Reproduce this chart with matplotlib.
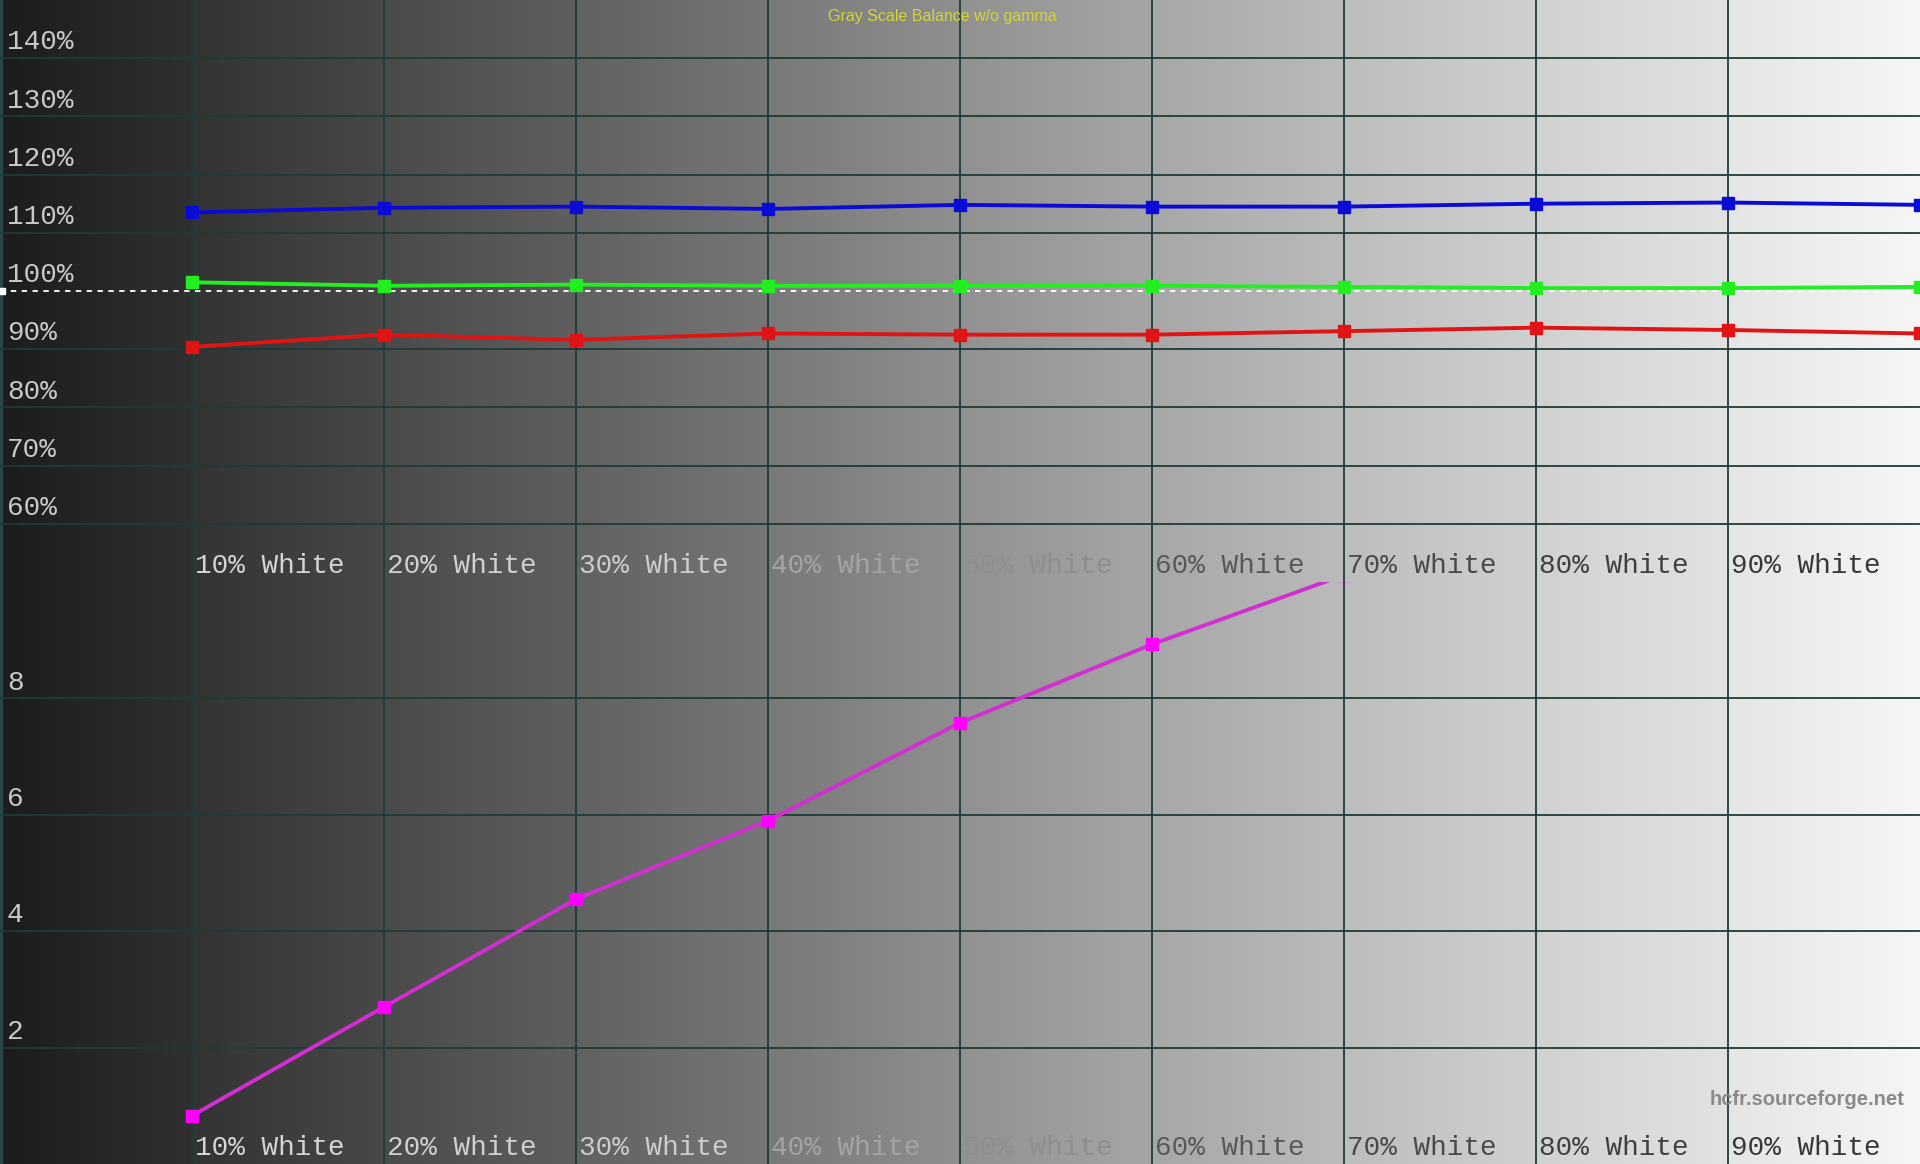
import numpy as np
import matplotlib
matplotlib.use("Agg")
import matplotlib.pyplot as plt

# data
levels = [10, 20, 30, 40, 50, 60, 70, 80, 90, 100]
red = [90.4, 92.5, 91.6, 92.7, 92.5, 92.5, 93.1, 93.7, 93.3, 92.7]
green = [101.5, 100.9, 101.1, 100.9, 100.9, 100.9, 100.7, 100.5, 100.5, 100.7]
blue = [113.5, 114.3, 114.5, 114.1, 114.8, 114.5, 114.5, 115.0, 115.2, 114.8]
delta_levels = [10, 20, 30, 40, 50, 60, 70]
delta = [0.83, 2.70, 4.55, 5.90, 7.58, 8.93, 10.12]

top_ticks = [60, 70, 80, 90, 100, 110, 120, 130, 140]
bottom_ticks = [2, 4, 6, 8]
xlabels = ["%d%% White" % v for v in levels[:-1]]
xlabel_colors = ["#d4d4d4", "#d0d0d0", "#cccccc", "#a4a4a4", "#8e8e8e",
                 "#585858", "#4a4a4a", "#404040", "#383838"]

# background: gray ramp, one slightly stepped segment per 10% column
bg_start = [0x1c, 0x33, 0x4a, 0x61, 0x79, 0x91, 0xa7, 0xbd, 0xd1, 0xe5]
bg_end = [0x30, 0x48, 0x5f, 0x77, 0x8f, 0xa6, 0xbb, 0xd0, 0xe2, 0xf6]

grid_col = "#1e3a3a"
mono = ["Liberation Mono", "DejaVu Sans Mono"]


def make_bg():
    cols = []
    for a, b in zip(bg_start, bg_end):
        cols.append(np.linspace(a, b, 100) / 255.0)
    g = np.concatenate(cols)
    img = np.repeat(g[None, :, None], 3, axis=2)
    img = np.repeat(img, 2, axis=0)
    return img


fig = plt.figure(figsize=(19.2, 11.64), dpi=100)
ax_top = fig.add_axes([0, 0.5, 1, 0.5])
ax_bot = fig.add_axes([0, 0, 1, 0.5])

bg = make_bg()
for ax, (y0, y1), ticks in [(ax_top, (50, 150), top_ticks),
                            (ax_bot, (0, 10), bottom_ticks)]:
    ax.imshow(bg, extent=[0, 100, y0, y1], aspect="auto", zorder=0,
              interpolation="bilinear")
    ax.set_xlim(0, 100)
    ax.set_ylim(y0, y1)
    ax.set_axis_off()
    for x in levels[:-1]:
        ax.axvline(x, color=grid_col, lw=1.3, zorder=1)
    ax.axvline(0.05, color="#2a4646", lw=2.5, zorder=1)
    for t in ticks:
        if not (ax is ax_top and t == 100):
            ax.axhline(t, color=grid_col, lw=1.3, zorder=1)
        lab = "%d%%" % t if ax is ax_top else "%d" % t
        ax.annotate(lab, (0, t), xytext=(5, 2), textcoords="offset points",
                    ha="left", va="bottom", fontsize=20, color="#c8c8c8",
                    family=mono, zorder=3)
    for x, lab, c in zip(levels, xlabels, xlabel_colors):
        ax.annotate(lab, (x, 0.028), xycoords=("data", "axes fraction"),
                    xytext=(2, 0), textcoords="offset points",
                    ha="left", va="center", fontsize=20, color=c,
                    family=mono, zorder=3)

# 100% reference line
ax_top.axhline(100, color="white", lw=1.3, ls=(0, (3, 3)), zorder=2)
ax_top.plot([0.1], [100], marker="s", ms=5, color="white", zorder=4,
            clip_on=False)

for vals, col in [(blue, "#0b0bd6"), (green, "#22ee22"), (red, "#e01414")]:
    ax_top.plot(levels, vals, color=col, lw=2.8, marker="s", ms=9,
                zorder=5)

ax_bot.plot(delta_levels, delta, color="#d22ed2", lw=2.8, marker="s", ms=9,
            mfc="#ff00ff", mec="#ff00ff", zorder=5)

fig.text(0.491, 0.986, "Gray Scale Balance w/o gamma", ha="center",
         va="center", fontsize=11.5, color="#d4d43a",
         family=["Liberation Sans", "DejaVu Sans"])
fig.text(0.992, 0.055, "hcfr.sourceforge.net", ha="right", va="center",
         fontsize=14.5, color="#8a8a8a", fontweight="bold",
         family=["Liberation Sans", "DejaVu Sans"])

fig.savefig("out.png", dpi=100)
